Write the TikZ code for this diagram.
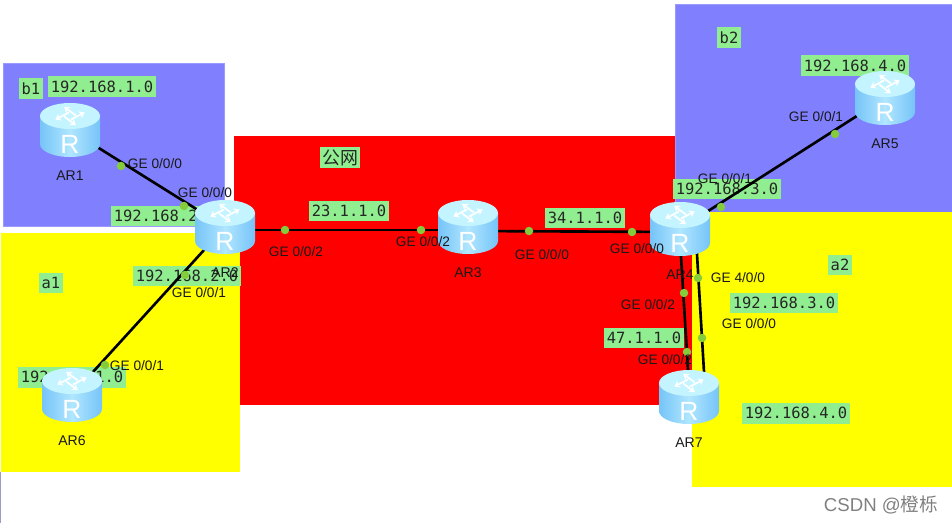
\documentclass[tikz,border=0pt]{standalone}
\usepackage{fontspec}
\setmainfont{Liberation Sans}
\setmonofont{DejaVu Sans Mono}
\newfontfamily\cjkfont{Noto Sans CJK SC}
\usepackage{xcolor}
\usetikzlibrary{positioning, arrows.meta}
\definecolor{zoneblue}{HTML}{8080FF}
\definecolor{zonered}{HTML}{FF0000}
\definecolor{zoneyellow}{HTML}{FFFF00}
\definecolor{netgreen}{HTML}{90EE90}
\definecolor{portgreen}{HTML}{84CC3C}
\definecolor{routerside}{HTML}{76C4F8}
\definecolor{routermid}{HTML}{B0E6FF}
\definecolor{routertop}{HTML}{C4F4FF}

\begin{document}
\begin{tikzpicture}[
  x=0.02cm, y=-0.02cm,
  zone/.style={draw=#1!80!white, fill=#1, line width=0.2pt},
  net/.style={fill=netgreen, font=\ttfamily\fontsize{8.8}{10}\selectfont, text=black!85,
              minimum height=0.42cm, inner xsep=0.05cm, inner ysep=0pt},
  port/.style={circle, fill=portgreen, minimum size=0.17cm, inner sep=0pt},
  iface/.style={font=\fontsize{7.8}{9}\selectfont, inner sep=0pt, text=black!90},
  rname/.style={font=\fontsize{8}{10}\selectfont, inner sep=0pt, text=black!90},
  link/.style={line width=1.5pt, black},
  router/.style={minimum width=1.2cm, minimum height=1.08cm, inner sep=0pt},
  rbody/.style={left color=routerside, right color=routerside, middle color=routermid},
  rmark/.style={text=white, inner sep=0pt, font=\fontsize{15}{15}\selectfont}
]
\useasboundingbox (0,0) rectangle (952,523);

% zones
\fill[zonered] (234,136) rectangle (692,405);
\path[zone=zoneblue] (3,63) rectangle (224,226);
\fill[zoneyellow] (1,233) rectangle (240,472);
\path[zone=zoneblue] (675,4) rectangle (952,212);
\fill[zoneyellow] (692,212) rectangle (952,487);
\draw[blue!30!gray!60, line width=0.5pt] (0.5,472) -- (0.5,523);

% green network labels
\node[net] (tagb1) at (31,89) {b1};
\node[net] (taga1) at (51,283) {a1};
\node[net] (tagb2) at (729,38) {b2};
\node[net] (taga2) at (840,265) {a2};
\node[net, font=\cjkfont\fontsize{10.2}{12}\selectfont] (tagpub) at (340,158) {公网};
\node[net] (netb1) at (102,87) {192.168.1.0};
\node[net] (netb1r) at (165,216) {192.168.2.0};
\node[net] (neta1r) at (187,276) {192.168.2.0};
\node[net] (neta1) at (72,377) {192.168.1.0};
\node[net] (netxy) at (349,211) {23.1.1.0};
\node[net] (netyz) at (585,218) {34.1.1.0};
\node[net] (netb2r) at (727,189) {192.168.3.0};
\node[net] (netb2) at (855,66) {192.168.4.0};
\node[net] (neta2r) at (784,303) {192.168.3.0};
\node[net] (neta2) at (796,413) {192.168.4.0};
\node[net] (netzw) at (644,338) {47.1.1.0};

% routers
\node[router] (ar1) at (70,130) {};
\node[router] (ar2) at (225,227) {};
\node[router] (ar3) at (468,227) {};
\node[router] (ar4) at (680,229) {};
\node[router] (ar5) at (885,98) {};
\node[router] (ar6) at (72,395) {};
\node[router] (ar7) at (689,397) {};

% links
\draw[link] (ar1.center) -- (ar2.center);
\draw[link] ([yshift=-0.06cm]ar2.center) -- ([yshift=-0.06cm]ar3.center);
\draw[link] ([yshift=-0.08cm]ar3.center) -- ([yshift=-0.06cm]ar4.center);
\draw[link] (ar2.center) -- (ar6.center);
\draw[link] (ar4.center) -- (ar5.center);
\draw[link] ([xshift=-0.014cm]ar4.center) -- ([xshift=0.014cm]ar7.center);
\draw[link] ([xshift=0.31cm]ar4.center) -- ([xshift=0.33cm]ar7.center);

% router bodies go over the link ends
\foreach \r in {ar1,ar2,ar3,ar4,ar5,ar6,ar7} {
  \begin{scope}[shift={(\r.center)}]
    \shade[rbody] (-30,-14) -- (-30,14) arc[start angle=180, end angle=0, x radius=30, y radius=13] -- (30,-14) -- cycle;
    \fill[routertop] (0,-14) ellipse (30 and 13);
    \begin{scope}[shift={(0,-14)}, yscale=0.62]
      \foreach \a in {40,130,220,310}
        \draw[white, line width=1pt, -{Stealth[length=1.1mm,width=1.5mm]}, rotate=\a] (-3,5) -- (15,5);
    \end{scope}
    \node[rmark] (\r mark) at (0,14) {R};
  \end{scope}
}

% ports
\node[port] (p1) at (121,166) {};
\node[port] (p2) at (184,206) {};
\node[port] (p3) at (285,230) {};
\node[port] (p4) at (421,230) {};
\node[port] (p5) at (529,231) {};
\node[port] (p6) at (632,232) {};
\node[port] (p7) at (721,207) {};
\node[port] (p8) at (835,134) {};
\node[port] (p9) at (185,275) {};
\node[port] (p10) at (105,365) {};
\node[port] (p11) at (698,278) {};
\node[port] (p12) at (702,338) {};
\node[port] (p13) at (684,293) {};
\node[port] (p14) at (687,352) {};

% interface names
\node[iface] (if1) at (155,164) {GE 0/0/0};
\node[iface] (if2) at (205,193) {GE 0/0/0};
\node[iface] (if3) at (296,252) {GE 0/0/2};
\node[iface] (if4) at (423,242) {GE 0/0/2};
\node[iface] (if5) at (542,255) {GE 0/0/0};
\node[iface] (if6) at (637,249) {GE 0/0/0};
\node[iface] (if7) at (725,179) {GE 0/0/1};
\node[iface] (if8) at (816,117) {GE 0/0/1};
\node[iface] (if9) at (199,293) {GE 0/0/1};
\node[iface] (if10) at (137,366) {GE 0/0/1};
\node[iface] (if11) at (738,278) {GE 4/0/0};
\node[iface] (if12) at (749,324) {GE 0/0/0};
\node[iface] (if13) at (648,305) {GE 0/0/2};
\node[iface] (if14) at (665,360) {GE 0/0/2};

% router names
\node[rname, below=0.26cm of ar1] (name1) {AR1};
\node[rname, below=0.26cm of ar2] (name2) {AR2};
\node[rname, below=0.26cm of ar3] (name3) {AR3};
\node[rname, below=0.26cm of ar4] (name4) {AR4};
\node[rname, below=0.26cm of ar5] (name5) {AR5};
\node[rname, below=0.26cm of ar6] (name6) {AR6};
\node[rname, below=0.26cm of ar7] (name7) {AR7};

\node[font=\fontsize{10.6}{12}\selectfont, text=black!50, inner sep=0pt] (mark) at (881,505) {CSDN @{\cjkfont 橙栎}};
\end{tikzpicture}
\end{document}
